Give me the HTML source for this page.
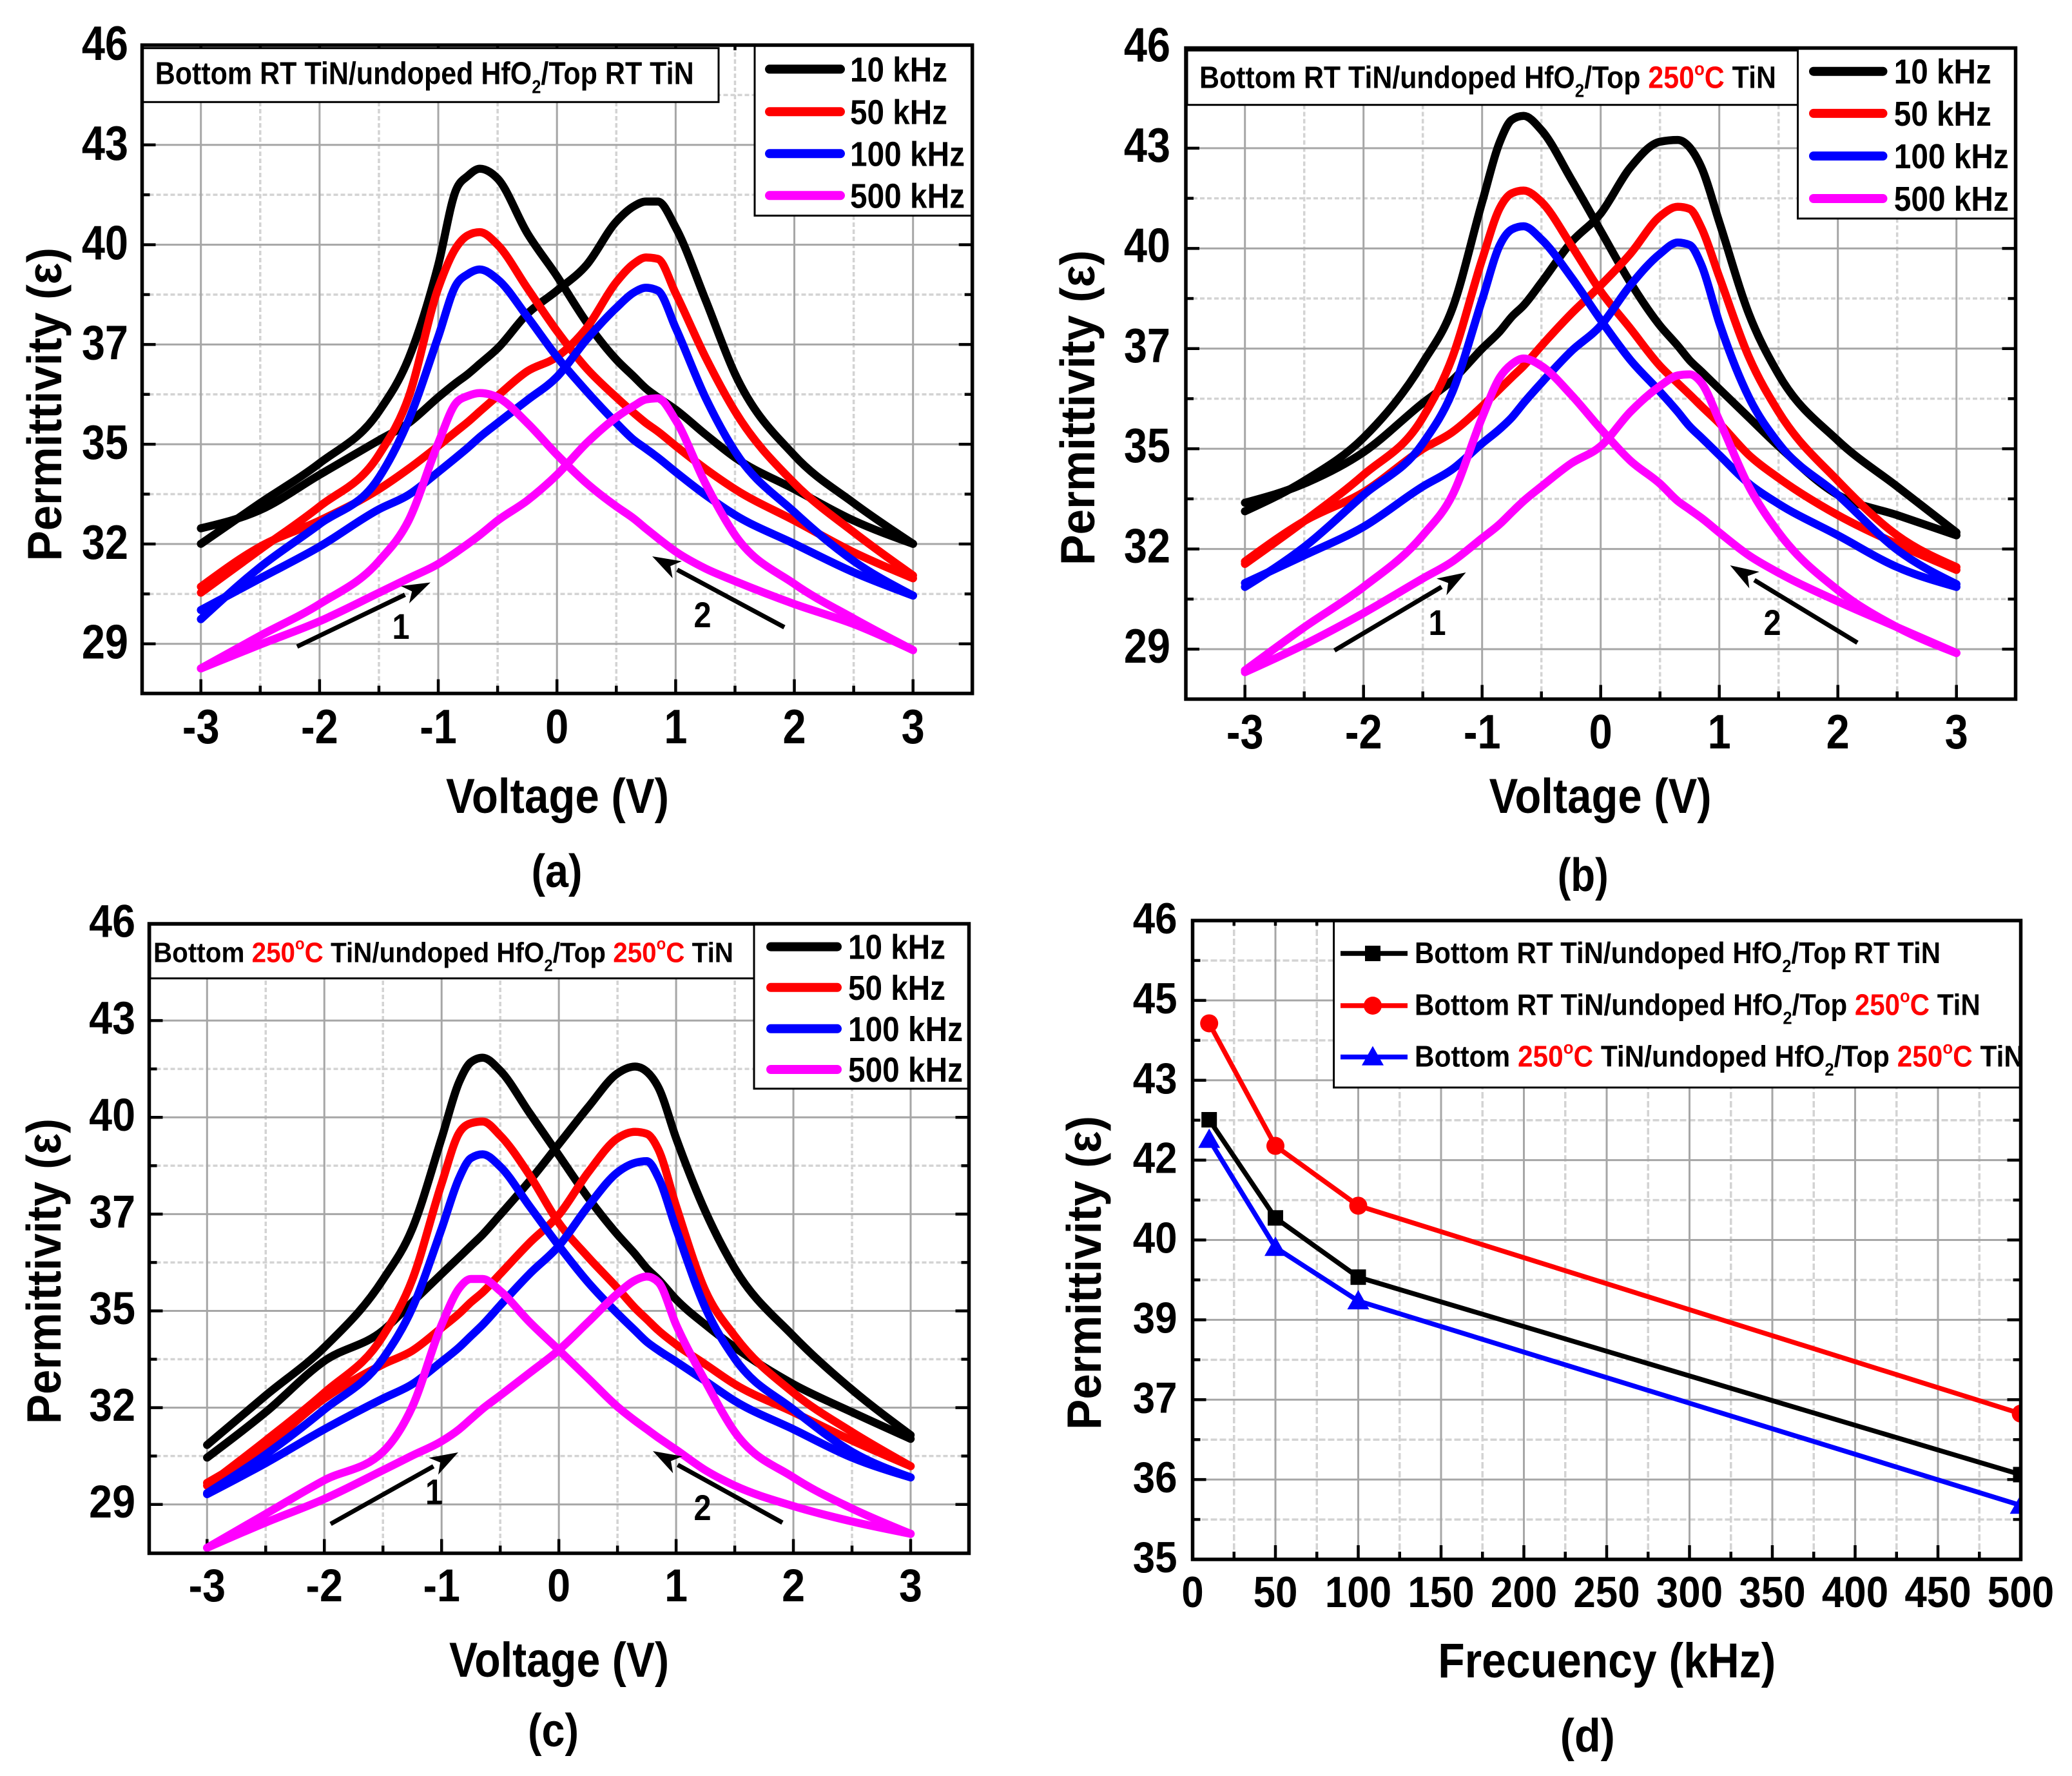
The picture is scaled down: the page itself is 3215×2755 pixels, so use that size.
<!DOCTYPE html>
<html lang="en">
<head>
<meta charset="utf-8">
<title>Permittivity versus voltage and frequency</title>
<style>
html,body{margin:0;padding:0;background:#fff;}
svg{display:block;font-family:"Liberation Sans",Arial,sans-serif;font-weight:bold;}
</style>
</head>
<body>
<svg id="figure" xmlns="http://www.w3.org/2000/svg" width="3215" height="2755" viewBox="0 0 3215 2755">
<rect x="0" y="0" width="3215" height="2755" fill="#fff"/>
<g id="layer-a"></g>
<g id="layer-b"></g>
<g id="layer-c"></g>
<g id="layer-d"></g>
</svg>
<script>
const voltages = [-3,-2.5,-2,-1.5,-1.25,-1,-0.85,-0.75,-0.65,-0.5,-0.25,0,0.25,0.5,0.65,0.75,0.85,1,1.25,1.5,2,2.5,3];
const voltageTicks = [-3,-2,-1,0,1,2,3];
const permittivityTickValues = [46,43.167,40.333,37.5,34.667,31.833,29];
const permittivityTickLabels = ["46","43","40","37","35","32","29"];
const frequencyLegend = ["10 kHz","50 kHz","100 kHz","500 kHz"];

const a10Left = [31.84,33.0,34.13,35.6,37.1,39.76,41.89,42.29,42.49,42.21,40.66,39.44,38.13,37.07,36.58,36.25,36.0,35.65,34.95,34.29,33.39,32.5,31.84];
const a10Right = [32.28,32.8,33.8,34.78,35.27,36.0,36.41,36.66,36.95,37.39,38.37,39.03,39.76,40.99,41.43,41.56,41.56,40.82,38.78,36.66,34.35,33.0,31.84];
const a50Left = [30.45,31.68,32.9,34.37,36.0,39.1,40.25,40.6,40.69,40.33,39.1,37.88,36.82,36.0,35.55,35.27,35.03,34.62,33.97,33.39,32.5,31.6,30.86];
const a50Right = [30.62,31.76,32.5,33.39,33.97,34.62,35.03,35.3,35.6,36.04,36.74,37.15,37.97,39.27,39.8,39.97,39.93,38.95,37.15,35.6,33.56,32.17,30.94];
const a100Left = [29.7,31.18,32.4,33.72,35.35,37.72,39.19,39.5,39.63,39.35,38.29,37.15,36.17,35.27,34.78,34.54,34.29,33.88,33.23,32.66,31.84,31.03,30.37];
const a100Right = [29.96,30.86,31.76,32.82,33.23,33.88,34.29,34.57,34.87,35.27,35.92,36.58,37.64,38.54,38.98,39.11,39.03,37.97,36.0,34.46,32.74,31.35,30.37];
const a500Left = [28.3,29.23,30.13,31.35,32.5,34.7,35.84,36.04,36.12,36.0,35.27,34.37,33.56,32.9,32.55,32.27,32.0,31.62,31.14,30.78,30.13,29.56,28.82];
const a500Right = [28.3,28.98,29.64,30.45,30.86,31.27,31.6,31.84,32.09,32.5,33.07,33.8,34.7,35.43,35.76,35.94,35.97,35.35,33.56,32.09,30.7,29.72,28.82];

const b10Left = [32.9,33.76,34.98,37.1,38.64,41.64,43.35,43.97,44.08,43.68,42.3,40.83,39.37,38.15,37.58,37.17,36.85,36.36,35.55,34.74,33.36,32.79,32.22];
const b10Right = [33.14,33.68,34.57,35.96,36.61,37.5,37.99,38.4,38.72,39.37,40.5,41.32,42.62,43.35,43.4,43.19,42.62,41.08,38.48,36.77,34.9,33.6,32.3];
const b50Left = [31.41,32.62,33.93,35.55,37.26,40.02,41.48,41.89,41.97,41.65,40.43,39.12,38.07,37.01,36.52,36.2,35.87,35.39,34.49,33.84,32.79,31.97,31.24];
const b50Right = [31.48,32.62,33.44,34.66,35.14,35.87,36.36,36.69,37.01,37.58,38.48,39.29,40.18,41.24,41.51,41.45,40.91,39.53,37.26,35.71,33.76,32.22,31.32];
const b100Left = [30.76,31.89,33.36,34.82,36.28,38.88,40.43,40.87,40.96,40.59,39.53,38.31,37.18,36.28,35.71,35.3,34.98,34.49,33.68,33.11,32.22,31.32,30.76];
const b100Right = [30.87,31.65,32.46,33.6,34.09,34.82,35.23,35.55,35.96,36.53,37.42,38.15,39.29,40.18,40.5,40.43,39.86,38.23,36.12,34.82,33.36,31.81,30.84];
const b500Left = [28.4,29.62,30.76,32.22,33.36,35.55,36.69,37.06,37.22,37.01,36.2,35.23,34.33,33.68,33.19,32.95,32.71,32.3,31.65,31.16,30.35,29.62,28.89];
const b500Right = [28.35,29.13,30.02,31.0,31.48,32.14,32.54,32.87,33.19,33.6,34.25,34.74,35.71,36.44,36.74,36.77,36.53,35.47,33.6,32.3,30.67,29.62,28.89];

const c10Left = [30.74,32.19,33.6,35.58,37.07,39.72,41.37,41.95,42.08,41.7,40.46,39.22,37.98,36.9,36.33,35.91,35.58,35.0,34.26,33.6,32.52,31.7,30.92];
const c10Right = [30.37,31.7,33.2,34.09,34.92,35.75,36.24,36.57,36.9,37.48,38.47,39.55,40.63,41.62,41.82,41.67,41.2,39.72,37.57,35.91,33.93,32.36,31.03];
const c50Left = [29.55,30.87,32.27,33.93,35.58,38.39,39.88,40.16,40.21,39.8,38.64,37.24,36.24,35.33,34.75,34.42,34.09,33.68,33.1,32.52,31.7,30.87,30.12];
const c50Right = [29.63,30.7,32.1,33.1,33.5,34.17,34.59,34.92,35.21,35.75,36.66,37.48,38.72,39.72,39.91,39.85,39.38,37.73,35.25,33.93,32.27,31.12,30.12];
const c100Left = [29.33,30.46,31.78,33.27,34.75,37.07,38.56,39.14,39.25,38.89,37.73,36.57,35.5,34.59,34.09,33.76,33.51,33.18,32.61,32.03,31.2,30.37,29.79];
const c100Right = [29.3,30.21,31.2,32.1,32.52,33.18,33.6,33.93,34.26,34.83,35.75,36.57,37.73,38.72,39.0,39.05,38.56,37.07,34.75,33.27,31.78,30.54,29.79];
const c500Left = [27.73,28.72,29.71,30.54,31.86,34.26,35.33,35.6,35.6,35.25,34.34,33.52,32.69,31.86,31.45,31.2,30.95,30.6,30.0,29.55,28.95,28.5,28.14];
const c500Right = [27.73,28.47,29.16,30.0,30.43,30.85,31.2,31.5,31.8,32.19,32.85,33.52,34.34,35.17,35.56,35.67,35.5,34.26,32.6,31.12,29.79,28.88,28.14];

const frequencies = [10,50,100,500];
const frequencyTicks = [0,50,100,150,200,250,300,350,400,450,500];
const dTickValues = [46,44.625,43.25,41.875,40.5,39.125,37.75,36.375,35];
const dTickLabels = ["46","45","43","42","40","39","37","36","35"];
const dBlackSeries = [42.57,40.88,39.86,36.46];
const dRedSeries = [44.23,42.12,41.09,37.51];
const dBlueSeries = [42.23,40.37,39.45,35.93];

const SVGNS = "http://www.w3.org/2000/svg";
const BLACK = "#000000", RED = "#ff0000", BLUE = "#0000ff", MAGENTA = "#ff00ff";

function mk(parent, tag, attrs) {
  const el = document.createElementNS(SVGNS, tag);
  for (const k in attrs) el.setAttribute(k, attrs[k]);
  parent.appendChild(el);
  return el;
}
function linear(d0, d1, r0, r1) {
  return v => r0 + (v - d0) * (r1 - r0) / (d1 - d0);
}
function smoothPath(xs, ys) {
  const n = xs.length, h = [], s = [], t = [];
  for (let i = 0; i < n-1; i++) { h[i] = xs[i+1]-xs[i]; s[i] = (ys[i+1]-ys[i])/h[i]; }
  for (let i = 1; i < n-1; i++) {
    const a = s[i-1], b = s[i];
    const m = Math.abs((a*h[i]+b*h[i-1])/(h[i-1]+h[i]));
    t[i] = (Math.sign(a)+Math.sign(b))*Math.min(Math.abs(a),Math.abs(b),0.5*m);
  }
  t[0] = (3*s[0]-t[1])/2;
  t[n-1] = (3*s[n-2]-t[n-2])/2;
  let d = "M" + xs[0].toFixed(1) + " " + ys[0].toFixed(1);
  for (let i = 0; i < n-1; i++) {
    const dx = h[i]/3;
    d += " C" + (xs[i]+dx).toFixed(1) + " " + (ys[i]+dx*t[i]).toFixed(1) + " " + (xs[i+1]-dx).toFixed(1) + " " + (ys[i+1]-dx*t[i+1]).toFixed(1) + " " + xs[i+1].toFixed(1) + " " + ys[i+1].toFixed(1);
  }
  return d;
}
function gridAndTicks(g, fr, xs, ys, xMinor, yMinor, dash, majorWidth) {
  xMinor.forEach(px => {
    const el = mk(g, "line", {x1:px, x2:px, y1:fr.top, y2:fr.bottom, stroke:"#d3d3d3", "stroke-width":3.5, "stroke-dasharray":dash});
    
    
  });
  yMinor.forEach(py => {
    const el = mk(g, "line", {x1:fr.left, x2:fr.right, y1:py, y2:py, stroke:"#d3d3d3", "stroke-width":3.5, "stroke-dasharray":dash});
    
    
  });
  xs.forEach(px => {
    const el = mk(g, "line", {x1:px, x2:px, y1:fr.top, y2:fr.bottom, stroke:"#a6a6a6", "stroke-width":majorWidth});
    
    
  });
  ys.forEach(py => {
    const el = mk(g, "line", {x1:fr.left, x2:fr.right, y1:py, y2:py, stroke:"#a6a6a6", "stroke-width":majorWidth});
    
    
  });
  const tick = (x1,y1,x2,y2) => {
    const el = mk(g, "line", {x1,y1,x2,y2, stroke:"#000", "stroke-width":4.5});
    
    
  };
  xs.forEach(px => { tick(px, fr.bottom, px, fr.bottom-22); tick(px, fr.top, px, fr.top+8); });
  xMinor.forEach(px => { tick(px, fr.bottom, px, fr.bottom-12); tick(px, fr.top, px, fr.top+8); });
  ys.forEach(py => { tick(fr.left, py, fr.left+21, py); tick(fr.right, py, fr.right-21, py); });
  yMinor.forEach(py => { tick(fr.left, py, fr.left+12, py); tick(fr.right, py, fr.right-12, py); });
}
function label(g, x, y, size, content, anchor, name, len, scaleX) {
  const el = mk(g, "text", {"font-size":size, "text-anchor":anchor, fill:"#000"});
  if (scaleX) {
    el.setAttribute("transform", `translate(${x},${y}) scale(${scaleX},1)`);
  } else {
    el.setAttribute("x", x);
    el.setAttribute("y", y);
  }
  if (len) { el.setAttribute("textLength", len); el.setAttribute("lengthAdjust", "spacingAndGlyphs"); }
  el.textContent = content;
  
  
  return el;
}
function box(g, x, y, w, h, name) {
  const el = mk(g, "rect", {x, y, width:w, height:h, fill:"#fff", stroke:"#000", "stroke-width":3});
  
  
}
function richTitle(g, x, y, size, len, parts) {
  const el = mk(g, "text", {x, y, "font-size":size, fill:"#000", textLength:len, lengthAdjust:"spacingAndGlyphs"});
  el.setAttribute("xml:space", "preserve");
  
  
  let shift = 0;
  parts.forEach(p => {
    const t = mk(el, "tspan", {fill:p.red ? RED : "#000"});
    const want = p.sub ? 14 : (p.sup ? -20 : 0);
    if (want !== shift) { t.setAttribute("dy", want - shift); shift = want; }
    if (p.sub || p.sup) t.setAttribute("font-size", Math.round(size*0.6));
    t.textContent = p.t;
  });
  return el;
}
const P_RT_RT = [{t:"Bottom RT TiN/undoped HfO"},{t:"2",sub:1},{t:"/Top RT TiN"}];
const P_RT_250 = [{t:"Bottom RT TiN/undoped HfO"},{t:"2",sub:1},{t:"/Top "},{t:"250",red:1},{t:"o",sup:1,red:1},{t:"C",red:1},{t:" TiN"}];
const P_250_250 = [{t:"Bottom "},{t:"250",red:1},{t:"o",sup:1,red:1},{t:"C",red:1},{t:" TiN/undoped HfO"},{t:"2",sub:1},{t:"/Top "},{t:"250",red:1},{t:"o",sup:1,red:1},{t:"C",red:1},{t:" TiN"}];

function arrow(g, x1, y1, x2, y2, name) {
  const dx = x2-x1, dy = y2-y1, L = Math.hypot(dx,dy), ux = dx/L, uy = dy/L;
  const bx = x2-ux*44, by = y2-uy*44, nx = -uy, ny = ux;
  const ln = mk(g, "line", {x1, y1, x2:bx, y2:by, stroke:"#000", "stroke-width":7});
  
  
  const pg = mk(g, "polygon", {points:`${x2},${y2} ${bx+nx*15},${by+ny*15} ${bx+ux*12},${by+uy*12} ${bx-nx*15},${by-ny*15}`, fill:"#000"});
  
  
}

function drawVoltagePanel(cfg) {
  const g = document.getElementById(cfg.id);
  const fr = cfg.frame;
  const sx = linear(-3, 3, cfg.xNeg3, cfg.xPos3);
  const sy = linear(29, 46, cfg.y29, fr.top);
  const xMajor = voltageTicks.map(sx);
  const yMajor = permittivityTickValues.map(sy);
  const xMinor = [-2.5,-1.5,-0.5,0.5,1.5,2.5].map(sx);
  const step = (permittivityTickValues[0]-permittivityTickValues[1])/2;
  const yMinor = permittivityTickValues.map(v => sy(v - step));
  gridAndTicks(g, fr, xMajor, yMajor, xMinor, yMinor.slice(0,6), "7 4", 3);
  box(g, cfg.titleBox[0], cfg.titleBox[1], cfg.titleBox[2], cfg.titleBox[3], 'title-box');
  richTitle(g, cfg.titleText[0], cfg.titleText[1], cfg.titleFont, cfg.titleText[2], cfg.titleParts);

  const colors = [BLACK, RED, BLUE, MAGENTA];
  const pxX = voltages.map(sx);
  cfg.series.forEach((pair, i) => {
    pair.forEach((vals, j) => {
      const d = smoothPath(pxX, vals.map(sy));
      const p = mk(g, "path", {d, fill:"none", stroke:colors[i], "stroke-width":12.5, "stroke-linejoin":"round", "stroke-linecap":"round"});
      
      
    });
  });

  box(g, cfg.legendBox[0], cfg.legendBox[1], cfg.legendBox[2], cfg.legendBox[3], 'legend-box');
  frequencyLegend.forEach((txt, i) => {
    const ly = cfg.legendY[i];
    const ln = mk(g, "line", {x1:cfg.legendLine[0]+7, x2:cfg.legendLine[1]-7, y1:ly, y2:ly, stroke:colors[i], "stroke-width":14, "stroke-linecap":"round"});
    
    
    label(g, cfg.legendLine[2], ly+19, 54, txt, "start", 'legend-entry', i < 2 ? 151 : 178);
  });

  const frame = mk(g, "rect", {x:fr.left, y:fr.top, width:fr.right-fr.left, height:fr.bottom-fr.top, fill:"none", stroke:"#000", "stroke-width":5.5});
  
  

  voltageTicks.forEach(v => label(g, sx(v), cfg.xTickBase, cfg.tickFont, String(v), "middle", 'x-tick-label', 0, cfg.tickScale));
  permittivityTickValues.forEach((v,i) => label(g, cfg.yLabelRight, sy(v)+cfg.yLabelShift, cfg.tickFont, permittivityTickLabels[i], "end", 'y-tick-label', 0, cfg.tickScale));
  label(g, cfg.xTitle[0], cfg.xTitle[1], 76, "Voltage (V)", "start", 'x-axis-title', cfg.xTitle[2]);
  const yt = label(g, 0, 0, 75, "Permittivity (\u03b5)", "start", 'y-axis-title', cfg.yTitle[2] - cfg.yTitle[1]);
  yt.setAttribute("transform", `translate(${cfg.yTitle[0]},${cfg.yTitle[2]}) rotate(-90)`);
  label(g, cfg.panelLabel[0], cfg.panelLabel[1], 72, cfg.panelLabel[2], "start", 'panel-label', 79);
  arrow(g, cfg.arrow1[0], cfg.arrow1[1], cfg.arrow1[2], cfg.arrow1[3], 'sweep-arrow-1');
  arrow(g, cfg.arrow2[0], cfg.arrow2[1], cfg.arrow2[2], cfg.arrow2[3], 'sweep-arrow-2');
  label(g, cfg.label1[0], cfg.label1[1], 56, "1", "middle", 'sweep-label-1', 0, 0.87);
  label(g, cfg.label2[0], cfg.label2[1], 56, "2", "middle", 'sweep-label-2', 0, 0.87);
}

drawVoltagePanel({
  id:"layer-a", frame:{left:220.5,right:1508.7,top:70,bottom:1075.7}, xNeg3:311.7, xPos3:1416.7, y29:998.7,
  titleBox:[221.5,74.7,893.5,83.6], titleText:[240.7,130.7,836], titleFont:49, titleParts:P_RT_RT,
  legendBox:[1171,70,337.7,264.5], legendY:[107.3,173.3,238.3,303.3], legendLine:[1187,1311,1319],
  series:[[a10Left,a10Right],[a50Left,a50Right],[a100Left,a100Right],[a500Left,a500Right]],
  tickFont:75, tickScale:0.865, xTickBase:1153, yLabelRight:199, yLabelShift:23,
  xTitle:[692,1261,346], yTitle:[95,384,870.5], panelLabel:[824.5,1376,"(a)"],
  arrow1:[461,1003,668,903.5], arrow2:[1217,973,1012,863], label1:[622,991], label2:[1090,973]
});
drawVoltagePanel({
  id:"layer-b", frame:{left:1840,right:3127.5,top:74.5,bottom:1084.5}, xNeg3:1931.7, xPos3:3035.7, y29:1007,
  titleBox:[1842,78.3,947.5,84.4], titleText:[1861,136.7,895], titleFont:48, titleParts:P_RT_250,
  legendBox:[2789.5,74.5,338,264.5], legendY:[110.7,175.9,242,308], legendLine:[2807,2928.5,2938.8],
  series:[[b10Left,b10Right],[b50Left,b50Right],[b100Left,b100Right],[b500Left,b500Right]],
  tickFont:75, tickScale:0.865, xTickBase:1161, yLabelRight:1816, yLabelShift:21,
  xTitle:[2310.6,1261,345], yTitle:[1698,388,877], panelLabel:[2416.7,1382,"(b)"],
  arrow1:[2070.6,1009,2274.6,888], arrow2:[2882,997,2684.5,877], label1:[2230,985], label2:[2750,985]
});
drawVoltagePanel({
  id:"layer-c", frame:{left:231.5,right:1503.5,top:1433,bottom:2409.5}, xNeg3:321.3, xPos3:1413, y29:2333.7,
  titleBox:[233,1434.4,937,83.3], titleText:[238,1492.7,900], titleFont:44, titleParts:P_250_250,
  legendBox:[1170,1433,333.5,255.8], legendY:[1468.6,1531.8,1595.8,1659], legendLine:[1189,1306,1316],
  series:[[c10Left,c10Right],[c50Left,c50Right],[c100Left,c100Right],[c500Left,c500Right]],
  tickFont:71, tickScale:0.91, xTickBase:2484, yLabelRight:210, yLabelShift:20.5,
  xTitle:[697,2601,341], yTitle:[94,1735,2209], panelLabel:[819,2709,"(c)"],
  arrow1:[513,2364,711,2253], arrow2:[1214,2362,1013,2251], label1:[673.5,2333.5], label2:[1090,2358]
});

function drawFrequencyPanel() {
  const g = document.getElementById("layer-d");
  const fr = {left:1850.5,right:3135.5,top:1428,bottom:2419};
  const sx = linear(0, 500, fr.left, fr.right);
  const sy = linear(35, 46, fr.bottom, fr.top);
  const defs = mk(g, "defs", {});
  const clip = mk(defs, "clipPath", {id:"d-clip"});
  mk(clip, "rect", {x:fr.left, y:fr.top, width:fr.right-fr.left+1.5, height:fr.bottom-fr.top});
  const xMajor = frequencyTicks.map(sx);
  const yMajor = dTickValues.map(sy);
  const xMinor = frequencyTicks.slice(0,-1).map(v => sx(v+25));
  const yMinor = dTickValues.slice(0,-1).map(v => sy(v-0.6875));
  gridAndTicks(g, fr, xMajor, yMajor, xMinor, yMinor, "10 4", 3);

  const marker = (parent, kind, cx, cy, color) => {
    let el;
    if (kind === "square") el = mk(parent, "rect", {x:cx-12, y:cy-12, width:24, height:24, fill:color});
    else if (kind === "circle") el = mk(parent, "circle", {cx, cy, r:14, fill:color});
    else el = mk(parent, "polygon", {points:`${cx},${cy-17} ${cx+17},${cy+13} ${cx-17},${cy+13}`, fill:color});
    
    
  };
  const plot = mk(g, "g", {"clip-path":"url(#d-clip)"});
  
  
  const rows = [[dBlackSeries,BLACK,"square"],[dRedSeries,RED,"circle"],[dBlueSeries,BLUE,"triangle"]];
  rows.forEach(r => {
    const pts = r[0].map((v,i) => sx(frequencies[i]).toFixed(1) + "," + sy(v).toFixed(1)).join(" ");
    const pl = mk(plot, "polyline", {points:pts, fill:"none", stroke:r[1], "stroke-width":7.5});
    
    
    r[0].forEach((v,i) => marker(plot, r[2], sx(frequencies[i]), sy(v), r[1]));
  });

  const lg = mk(g, "g", {"clip-path":"url(#d-clip)"});
  
  
  box(lg, 2069.6, 1428, 1075, 259, 'legend-box');
  const legendRows = [[1479,1494,816,P_RT_RT],[1560,1574.7,877.7,P_RT_250],[1639.6,1654.6,945,P_250_250]];
  legendRows.forEach((r,i) => {
    const ln = mk(lg, "line", {x1:2080, x2:2184, y1:r[0], y2:r[0], stroke:rows[i][1], "stroke-width":7.5});
    
    
    marker(lg, rows[i][2], 2130, r[0], rows[i][1]);
    richTitle(lg, 2195, r[1], 46, r[2], r[3]);
  });

  const frame = mk(g, "rect", {x:fr.left, y:fr.top, width:fr.right-fr.left, height:fr.bottom-fr.top, fill:"none", stroke:"#000", "stroke-width":5.5});
  
  

  frequencyTicks.forEach(v => label(g, sx(v), 2493, 68, String(v), "middle", 'x-tick-label', 0, 0.91));
  dTickValues.forEach((v,i) => label(g, 1826.6, sy(v)+20, 68, dTickLabels[i], "end", 'y-tick-label', 0, 0.91));
  label(g, 2231.3, 2602, 76, "Frecuency (kHz)", "start", 'x-axis-title', 524);
  const yt = label(g, 0, 0, 75, "Permittivity (\u03b5)", "start", 'y-axis-title', 487);
  yt.setAttribute("transform", "translate(1708,2218) rotate(-90)");
  label(g, 2420.8, 2717, 72, "(d)", "start", 'panel-label', 85);
}
drawFrequencyPanel();
</script>
</body>
</html>
